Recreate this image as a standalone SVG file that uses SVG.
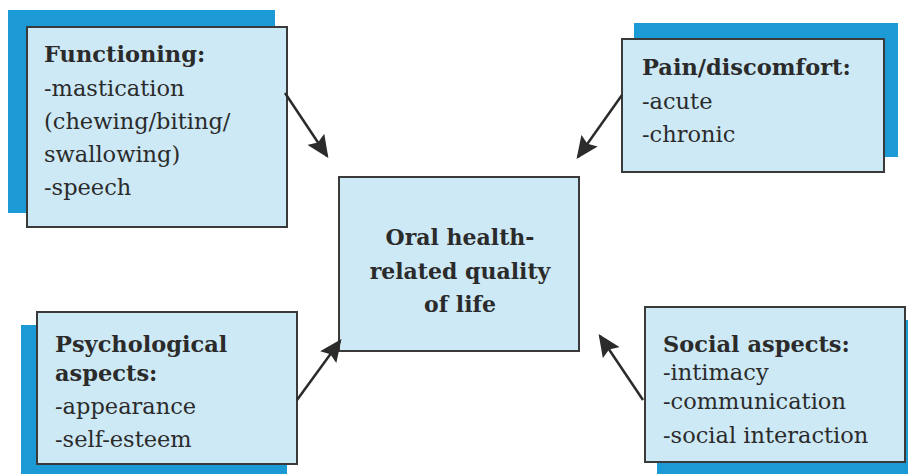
<svg xmlns="http://www.w3.org/2000/svg" width="908" height="474" viewBox="0 0 908 474">
<style>
.sh{fill:#1b9ad5}
.bx{fill:#cde9f6;stroke:#3a3a3a;stroke-width:2}
text{font-family:'DejaVu Serif','Liberation Serif',serif;font-size:22.5px;fill:#2b2b2b}
.b{font-weight:bold}
.c{text-anchor:middle;font-size:22px}
.ar{stroke:#2b2b2b;stroke-width:2.5;fill:none;marker-end:url(#ah)}
</style>
<defs>
<marker id="ah" markerWidth="9" markerHeight="8" refX="8" refY="4" orient="auto" markerUnits="strokeWidth">
<path d="M0,0 L9,4 L0,8 L1.5,4 Z" fill="#2b2b2b"/>
</marker>
</defs>
<rect width="908" height="474" fill="#ffffff"/>
<g id="functioning">
<rect class="sh" x="8" y="10" width="267" height="203"/>
<rect class="bx" x="27" y="27" width="260" height="200"/>
<text class="b" x="44" y="62">Functioning:</text>
<text x="44" y="96">-mastication</text>
<text x="44" y="129">(chewing/biting/</text>
<text x="44" y="162">swallowing)</text>
<text x="44" y="195">-speech</text>
</g>
<g id="pain">
<rect class="sh" x="634" y="23" width="264" height="134"/>
<rect class="bx" x="622" y="39" width="262" height="133"/>
<text class="b" x="642" y="75">Pain/discomfort:</text>
<text x="642" y="109">-acute</text>
<text x="642" y="142">-chronic</text>
</g>
<g id="psychological">
<rect class="sh" x="21" y="325" width="266" height="149"/>
<rect class="bx" x="37" y="312" width="260" height="152"/>
<text class="b" x="55" y="352">Psychological</text>
<text class="b" x="55" y="381">aspects:</text>
<text x="55" y="414">-appearance</text>
<text x="55" y="447">-self-esteem</text>
</g>
<g id="social">
<rect class="sh" x="657" y="320" width="251" height="154"/>
<rect class="bx" x="645" y="307" width="260" height="155"/>
<text class="b" x="663" y="352">Social aspects:</text>
<text x="663" y="380">-intimacy</text>
<text x="663" y="409">-communication</text>
<text x="663" y="443">-social interaction</text>
</g>
<g id="center">
<rect class="bx" x="339" y="177" width="240" height="174"/>
<text class="b c" x="460" y="245">Oral health-</text>
<text class="b c" x="460" y="279">related quality</text>
<text class="b c" x="460" y="312">of life</text>
</g>
<g id="connectors">
<line class="ar" x1="285" y1="93" x2="327" y2="156"/>
<line class="ar" x1="622" y1="95" x2="578" y2="157"/>
<line class="ar" x1="297" y1="400" x2="340" y2="341"/>
<line class="ar" x1="643" y1="400" x2="600" y2="336"/>
</g>
</svg>
